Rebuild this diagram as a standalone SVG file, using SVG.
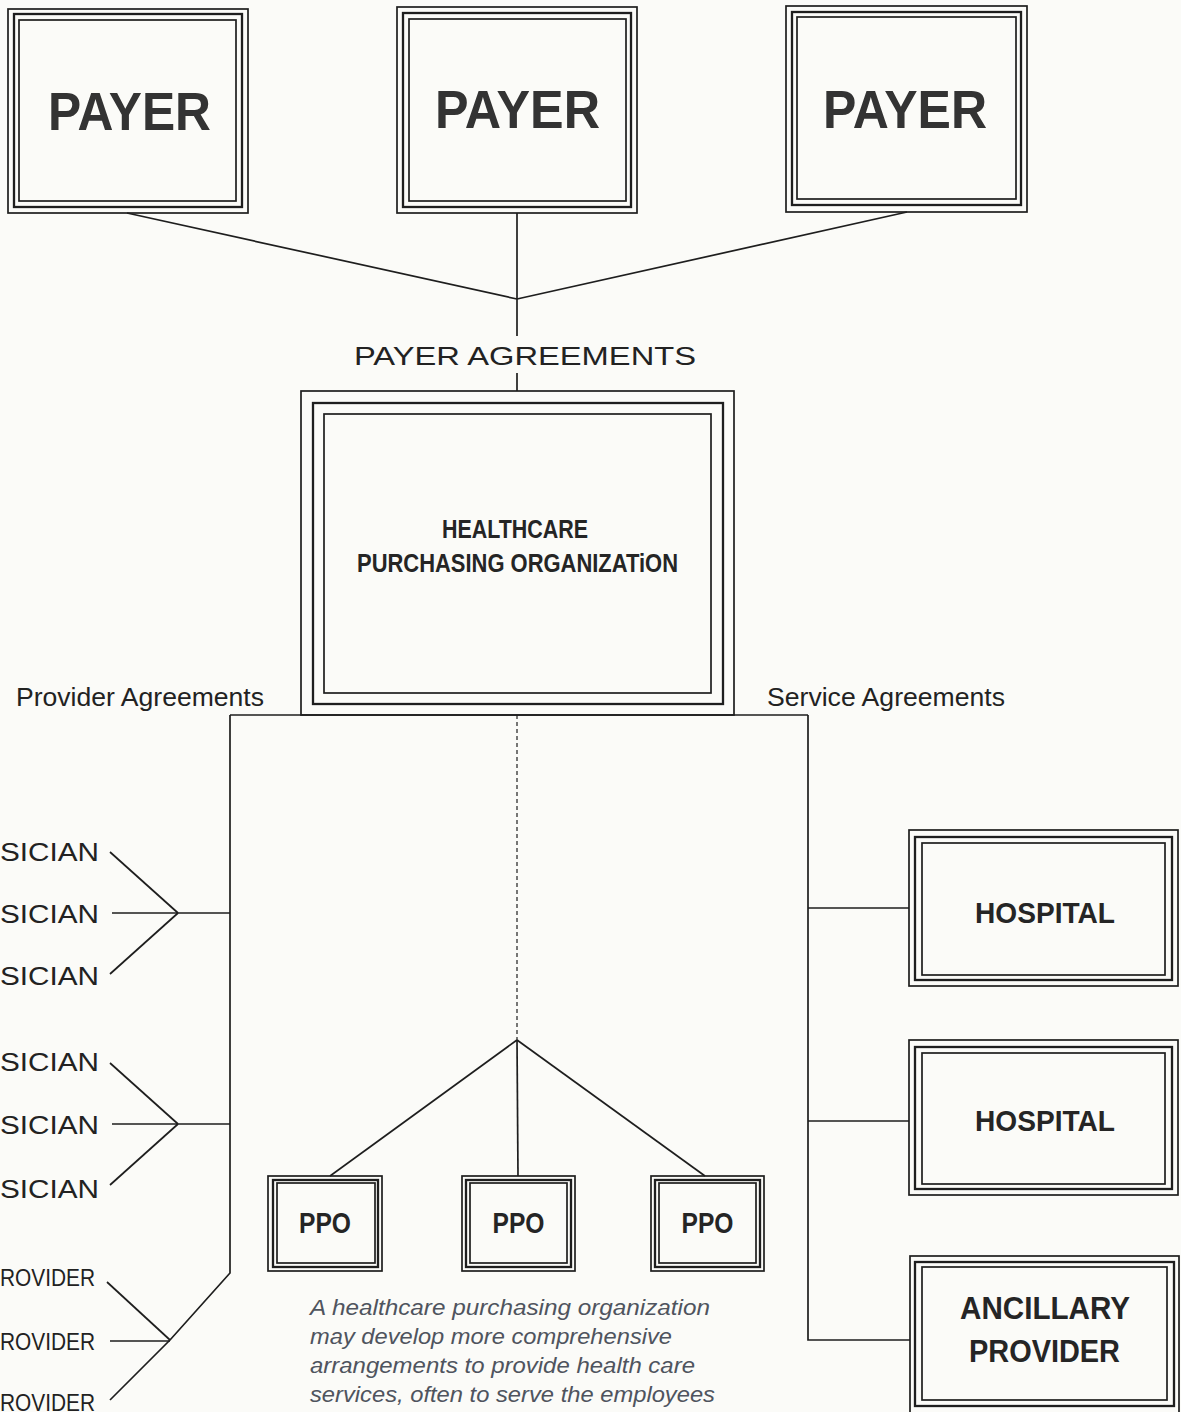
<svg xmlns="http://www.w3.org/2000/svg" width="1181" height="1412" viewBox="0 0 1181 1412">
<style>
.bg{fill:#fbfbf8}
.o{fill:none;stroke:#1e1e1e;stroke-width:1.7}
.m{fill:none;stroke:#1e1e1e;stroke-width:2.3}
.i{fill:none;stroke:#1e1e1e;stroke-width:1.7}
.conn path{fill:none;stroke:#1e1e1e;stroke-width:1.7}
.conn .dash{stroke-dasharray:4 3;stroke-width:1.2}
.payer{font-family:"Liberation Sans",Arial,sans-serif;font-weight:bold;font-size:54px;fill:#333;text-anchor:middle}
.cond{font-family:"Liberation Sans Narrow","Liberation Sans",Arial,sans-serif;font-weight:bold;fill:#252525;text-anchor:middle}
.lab{font-family:"Liberation Sans",Arial,sans-serif;font-size:26px;fill:#222}
.labn{font-family:"Liberation Sans Narrow","Liberation Sans",Arial,sans-serif;font-size:24px;fill:#222}
.cap{font-family:"Liberation Sans",Arial,sans-serif;font-style:italic;font-size:22px;fill:#4f545e}
</style>
<rect class="bg" x="0" y="0" width="1181" height="1412"/>

<g id="connectors" class="conn">
  <path d="M127,213 L517,299"/>
  <path d="M907,212 L517,299"/>
  <path d="M517,213 L517,336"/>
  <path d="M517,373 L517,391"/>
  <path d="M230,715 L808,715"/>
  <path d="M230,715 L230,1273 L170,1340 L110,1400"/>
  <path d="M110,852 L178,913"/>
  <path d="M112,913 L230,913"/>
  <path d="M110,974 L178,913"/>
  <path d="M110,1063 L178,1124"/>
  <path d="M112,1124 L230,1124"/>
  <path d="M110,1185 L178,1124"/>
  <path d="M107,1282 L170,1340"/>
  <path d="M110,1341 L170,1341"/>
  <path class="dash" d="M517,715 L517,1040"/>
  <path d="M517,1040 L330,1176"/>
  <path d="M517,1040 L518,1176"/>
  <path d="M517,1040 L705,1176"/>
  <path d="M808,715 L808,1340 L910,1340"/>
  <path d="M808,908 L909,908"/>
  <path d="M808,1121 L909,1121"/>
</g>

<g id="payer1">
  <rect class="o" x="8" y="9" width="240" height="204"/>
  <rect class="m" x="14" y="14" width="228" height="193"/>
  <rect class="i" x="19" y="20" width="217" height="181"/>
  <text class="payer" x="129.5" y="130" textLength="163" lengthAdjust="spacingAndGlyphs">PAYER</text>
</g>
<g id="payer2">
  <rect class="o" x="397" y="7" width="240" height="206"/>
  <rect class="m" x="403" y="13" width="228" height="194"/>
  <rect class="i" x="409" y="19" width="217" height="182"/>
  <text class="payer" x="517.5" y="128" textLength="165" lengthAdjust="spacingAndGlyphs">PAYER</text>
</g>
<g id="payer3">
  <rect class="o" x="786" y="6" width="241" height="206"/>
  <rect class="m" x="792" y="12" width="229" height="193"/>
  <rect class="i" x="797" y="17" width="219" height="182"/>
  <text class="payer" x="905" y="128" textLength="164" lengthAdjust="spacingAndGlyphs">PAYER</text>
</g>

<g id="payer-agreements-label">
  <text class="lab" x="354" y="365" font-size="28" textLength="342" lengthAdjust="spacingAndGlyphs">PAYER AGREEMENTS</text>
</g>

<g id="hpo">
  <rect class="o" x="301" y="391" width="433" height="324"/>
  <rect class="m" x="313" y="403" width="410" height="301"/>
  <rect class="i" x="324" y="414" width="387" height="279"/>
  <text class="cond" x="515" y="538" font-size="26" textLength="146" lengthAdjust="spacingAndGlyphs">HEALTHCARE</text>
  <text class="cond" x="517.5" y="572" font-size="26" textLength="321" lengthAdjust="spacingAndGlyphs">PURCHASING ORGANIZATiON</text>
</g>

<g id="provider-agreements-label">
  <text class="lab" x="16" y="706" textLength="248" lengthAdjust="spacingAndGlyphs">Provider Agreements</text>
</g>
<g id="service-agreements-label">
  <text class="lab" x="767" y="706" textLength="238" lengthAdjust="spacingAndGlyphs">Service Agreements</text>
</g>

<g id="physician1"><text class="lab" x="0" y="861" textLength="99" lengthAdjust="spacingAndGlyphs">SICIAN</text></g>
<g id="physician2"><text class="lab" x="0" y="923" textLength="99" lengthAdjust="spacingAndGlyphs">SICIAN</text></g>
<g id="physician3"><text class="lab" x="0" y="985" textLength="99" lengthAdjust="spacingAndGlyphs">SICIAN</text></g>
<g id="physician4"><text class="lab" x="0" y="1071" textLength="99" lengthAdjust="spacingAndGlyphs">SICIAN</text></g>
<g id="physician5"><text class="lab" x="0" y="1134" textLength="99" lengthAdjust="spacingAndGlyphs">SICIAN</text></g>
<g id="physician6"><text class="lab" x="0" y="1198" textLength="99" lengthAdjust="spacingAndGlyphs">SICIAN</text></g>

<g id="provider1"><text class="labn" x="0" y="1286" textLength="95" lengthAdjust="spacingAndGlyphs">ROVIDER</text></g>
<g id="provider2"><text class="labn" x="0" y="1350" textLength="95" lengthAdjust="spacingAndGlyphs">ROVIDER</text></g>
<g id="provider3"><text class="labn" x="0" y="1411" textLength="95" lengthAdjust="spacingAndGlyphs">ROVIDER</text></g>

<g id="ppo1">
  <rect class="o" x="268" y="1176" width="114" height="95"/>
  <rect class="m" x="273" y="1180" width="105" height="87"/>
  <rect class="i" x="277" y="1183" width="98" height="80"/>
  <text class="cond" x="325" y="1233" font-size="30" textLength="52" lengthAdjust="spacingAndGlyphs">PPO</text>
</g>
<g id="ppo2">
  <rect class="o" x="462" y="1176" width="113" height="95"/>
  <rect class="m" x="466" y="1180" width="105" height="87"/>
  <rect class="i" x="470" y="1183" width="97" height="80"/>
  <text class="cond" x="518.5" y="1233" font-size="30" textLength="52" lengthAdjust="spacingAndGlyphs">PPO</text>
</g>
<g id="ppo3">
  <rect class="o" x="651" y="1176" width="113" height="95"/>
  <rect class="m" x="655" y="1180" width="105" height="87"/>
  <rect class="i" x="659" y="1183" width="97" height="80"/>
  <text class="cond" x="707.5" y="1233" font-size="30" textLength="52" lengthAdjust="spacingAndGlyphs">PPO</text>
</g>

<g id="caption">
  <text class="cap" x="310" y="1315" textLength="400" lengthAdjust="spacingAndGlyphs">A healthcare purchasing organization</text>
  <text class="cap" x="310" y="1344" textLength="362" lengthAdjust="spacingAndGlyphs">may develop more comprehensive</text>
  <text class="cap" x="310" y="1373" textLength="385" lengthAdjust="spacingAndGlyphs">arrangements to provide health care</text>
  <text class="cap" x="310" y="1402" textLength="405" lengthAdjust="spacingAndGlyphs">services, often to serve the employees</text>
</g>

<g id="hospital1">
  <rect class="o" x="909" y="830" width="269" height="156"/>
  <rect class="m" x="915" y="837" width="257" height="143"/>
  <rect class="i" x="922" y="843" width="243" height="132"/>
  <text class="cond" x="1045" y="923" font-size="30" textLength="140" lengthAdjust="spacingAndGlyphs">HOSPITAL</text>
</g>
<g id="hospital2">
  <rect class="o" x="909" y="1040" width="269" height="155"/>
  <rect class="m" x="915" y="1047" width="257" height="142"/>
  <rect class="i" x="922" y="1053" width="243" height="131"/>
  <text class="cond" x="1045" y="1131" font-size="30" textLength="140" lengthAdjust="spacingAndGlyphs">HOSPITAL</text>
</g>
<g id="ancillary">
  <rect class="o" x="910" y="1256" width="269" height="158"/>
  <rect class="m" x="915" y="1262" width="259" height="144"/>
  <rect class="i" x="922" y="1267" width="245" height="133"/>
  <text class="cond" x="1045" y="1319" font-size="31" textLength="170" lengthAdjust="spacingAndGlyphs">ANCILLARY</text>
  <text class="cond" x="1044.5" y="1362" font-size="31" textLength="151" lengthAdjust="spacingAndGlyphs">PROVIDER</text>
</g>
</svg>
